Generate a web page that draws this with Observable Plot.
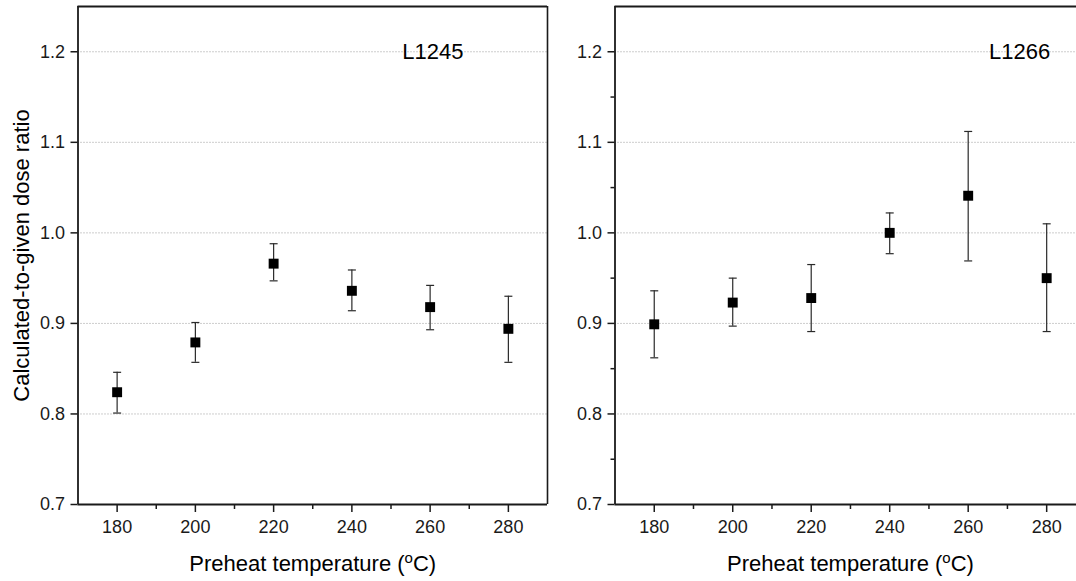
<!DOCTYPE html>
<html><head><meta charset="utf-8">
<script src="https://cdn.jsdelivr.net/npm/d3@7"></script>
<script src="https://cdn.jsdelivr.net/npm/@observablehq/plot@0.6"></script>
<style>
html,body{margin:0;padding:0;background:#fff;overflow:hidden}
#chart{display:flex;width:1076px;height:581px}
#chart svg{display:block;flex:none}
</style></head><body><div id="chart"></div>
<script>
// Data
const temps = [180, 200, 220, 240, 260, 280];
const l1245Ratio = [0.824, 0.879, 0.966, 0.936, 0.918, 0.894];
const l1245Lo    = [0.801, 0.857, 0.947, 0.914, 0.893, 0.857];
const l1245Hi    = [0.846, 0.901, 0.988, 0.959, 0.942, 0.930];
const l1266Ratio = [0.899, 0.923, 0.928, 1.000, 1.041, 0.950];
const l1266Lo    = [0.862, 0.897, 0.891, 0.977, 0.969, 0.891];
const l1266Hi    = [0.936, 0.950, 0.965, 1.022, 1.112, 1.010];
const panelNames = ["L1245", "L1266"];
const yMajor = [0.7, 0.8, 0.9, 1.0, 1.1, 1.2];
const yGrid = [0.8, 0.9, 1.0, 1.1, 1.2];
const yMinor = [0.75, 0.85, 0.95, 1.05, 1.15];
const xMajor = [180, 200, 220, 240, 260, 280];
const xMinor = [190, 210, 230, 250, 270];
const yDomain = [0.7, 1.25];
const xTitle = "Preheat temperature (oC)";
const yTitle = "Calculated-to-given dose ratio";

const capSymbol = {draw(ctx) { ctx.moveTo(-4, 0); ctx.lineTo(4, 0); }};
const FONT = "'Liberation Sans', Arial, Helvetica, sans-serif";
const INK = "#1a1a1a";

function panel(o) {
  const rows = temps.map((t, i) => ({t, r: o.ratio[i], lo: o.lo[i], hi: o.hi[i]}));
  const marks = [
    Plot.ruleY(yGrid, {stroke: "#9a9a9a", strokeDasharray: "1,2", strokeWidth: 1}),
    Plot.axisY({ticks: yMajor, tickSize: 7, tickPadding: 6, tickFormat: ".1f", fontSize: 18, stroke: INK, strokeWidth: 1.5, label: null}),
    Plot.axisX({ticks: xMajor, tickSize: 8, tickPadding: 8, tickFormat: d => String(d), fontSize: 18, stroke: INK, strokeWidth: 1.5, label: null}),
    Plot.axisX({ticks: xMinor, tickSize: 5, tickFormat: () => "", stroke: INK, strokeWidth: 1.5, label: null}),
    Plot.ruleX([o.xDomain[0]], {stroke: INK, strokeWidth: 1.8}),
    Plot.ruleY(yDomain, {stroke: INK, strokeWidth: 1.8}),
    Plot.ruleX(rows, {x: "t", y1: "lo", y2: "hi", stroke: "#2a2a2a", strokeWidth: 1.2}),
    Plot.dot(rows, {x: "t", y: "lo", symbol: capSymbol, stroke: "#2a2a2a", strokeWidth: 1.2, fill: "none"}),
    Plot.dot(rows, {x: "t", y: "hi", symbol: capSymbol, stroke: "#2a2a2a", strokeWidth: 1.2, fill: "none"}),
    Plot.dot(rows, {x: "t", y: "r", symbol: "square", r: 5.6, fill: "black", stroke: null}),
    Plot.text([o.name], {text: d => d, x: () => o.nameX, y: () => 1.2, fontSize: 22, fill: "black", lineAnchor: "middle"}),
    Plot.text([xTitle], {text: d => d, frameAnchor: "bottom", lineAnchor: "middle", textAnchor: "middle", dy: 59.5, dx: o.titleDx, fontSize: 22, fill: "black"})
  ];
  if (o.minorY) marks.push(Plot.axisY({ticks: yMinor, tickSize: 4, tickFormat: () => "", stroke: INK, strokeWidth: 1.5, label: null}));
  if (o.rightFrame) marks.push(Plot.ruleX([o.xDomain[1]], {stroke: INK, strokeWidth: 1.6}));
  if (o.yTitle) marks.push(Plot.text([yTitle], {text: d => d, frameAnchor: "left", textAnchor: "middle", lineAnchor: "middle", rotate: -90, dx: -56, fontSize: 22, fill: "black"}));
  const svg = Plot.plot({
    width: o.width, height: 581,
    marginLeft: o.marginLeft, marginRight: o.marginRight, marginTop: 6, marginBottom: 77,
    style: {fontFamily: FONT, fontSize: "18px", color: INK, background: "white", overflow: "visible"},
    x: {domain: o.xDomain, axis: null},
    y: {domain: yDomain, axis: null},
    marks
  });
  svg.querySelectorAll("text").forEach(t => {
    if (t.textContent === xTitle) {
      t.textContent = "";
      const ns = "http://www.w3.org/2000/svg";
      const a = document.createElementNS(ns, "tspan"); a.textContent = "Preheat temperature (";
      const b = document.createElementNS(ns, "tspan"); b.textContent = "o"; b.setAttribute("font-size", "15"); b.setAttribute("dy", "-8");
      const c = document.createElementNS(ns, "tspan"); c.textContent = "C)"; c.setAttribute("dy", "8");
      t.append(a, b, c);
    }
  });
  return svg;
}

const chart = document.getElementById("chart");
chart.append(panel({ratio: l1245Ratio, lo: l1245Lo, hi: l1245Hi, name: panelNames[0], nameX: 260.7,
  width: 565, marginLeft: 77.5, marginRight: 18, xDomain: [170, 290], minorY: false, rightFrame: true, yTitle: true, titleDx: 0}));
chart.append(panel({ratio: l1266Ratio, lo: l1266Lo, hi: l1266Hi, name: panelNames[1], nameX: 273.1,
  width: 511, marginLeft: 49.5, marginRight: 0, xDomain: [170, 287.6], minorY: true, rightFrame: false, yTitle: false, titleDx: 4.75}));
</script></body></html>
